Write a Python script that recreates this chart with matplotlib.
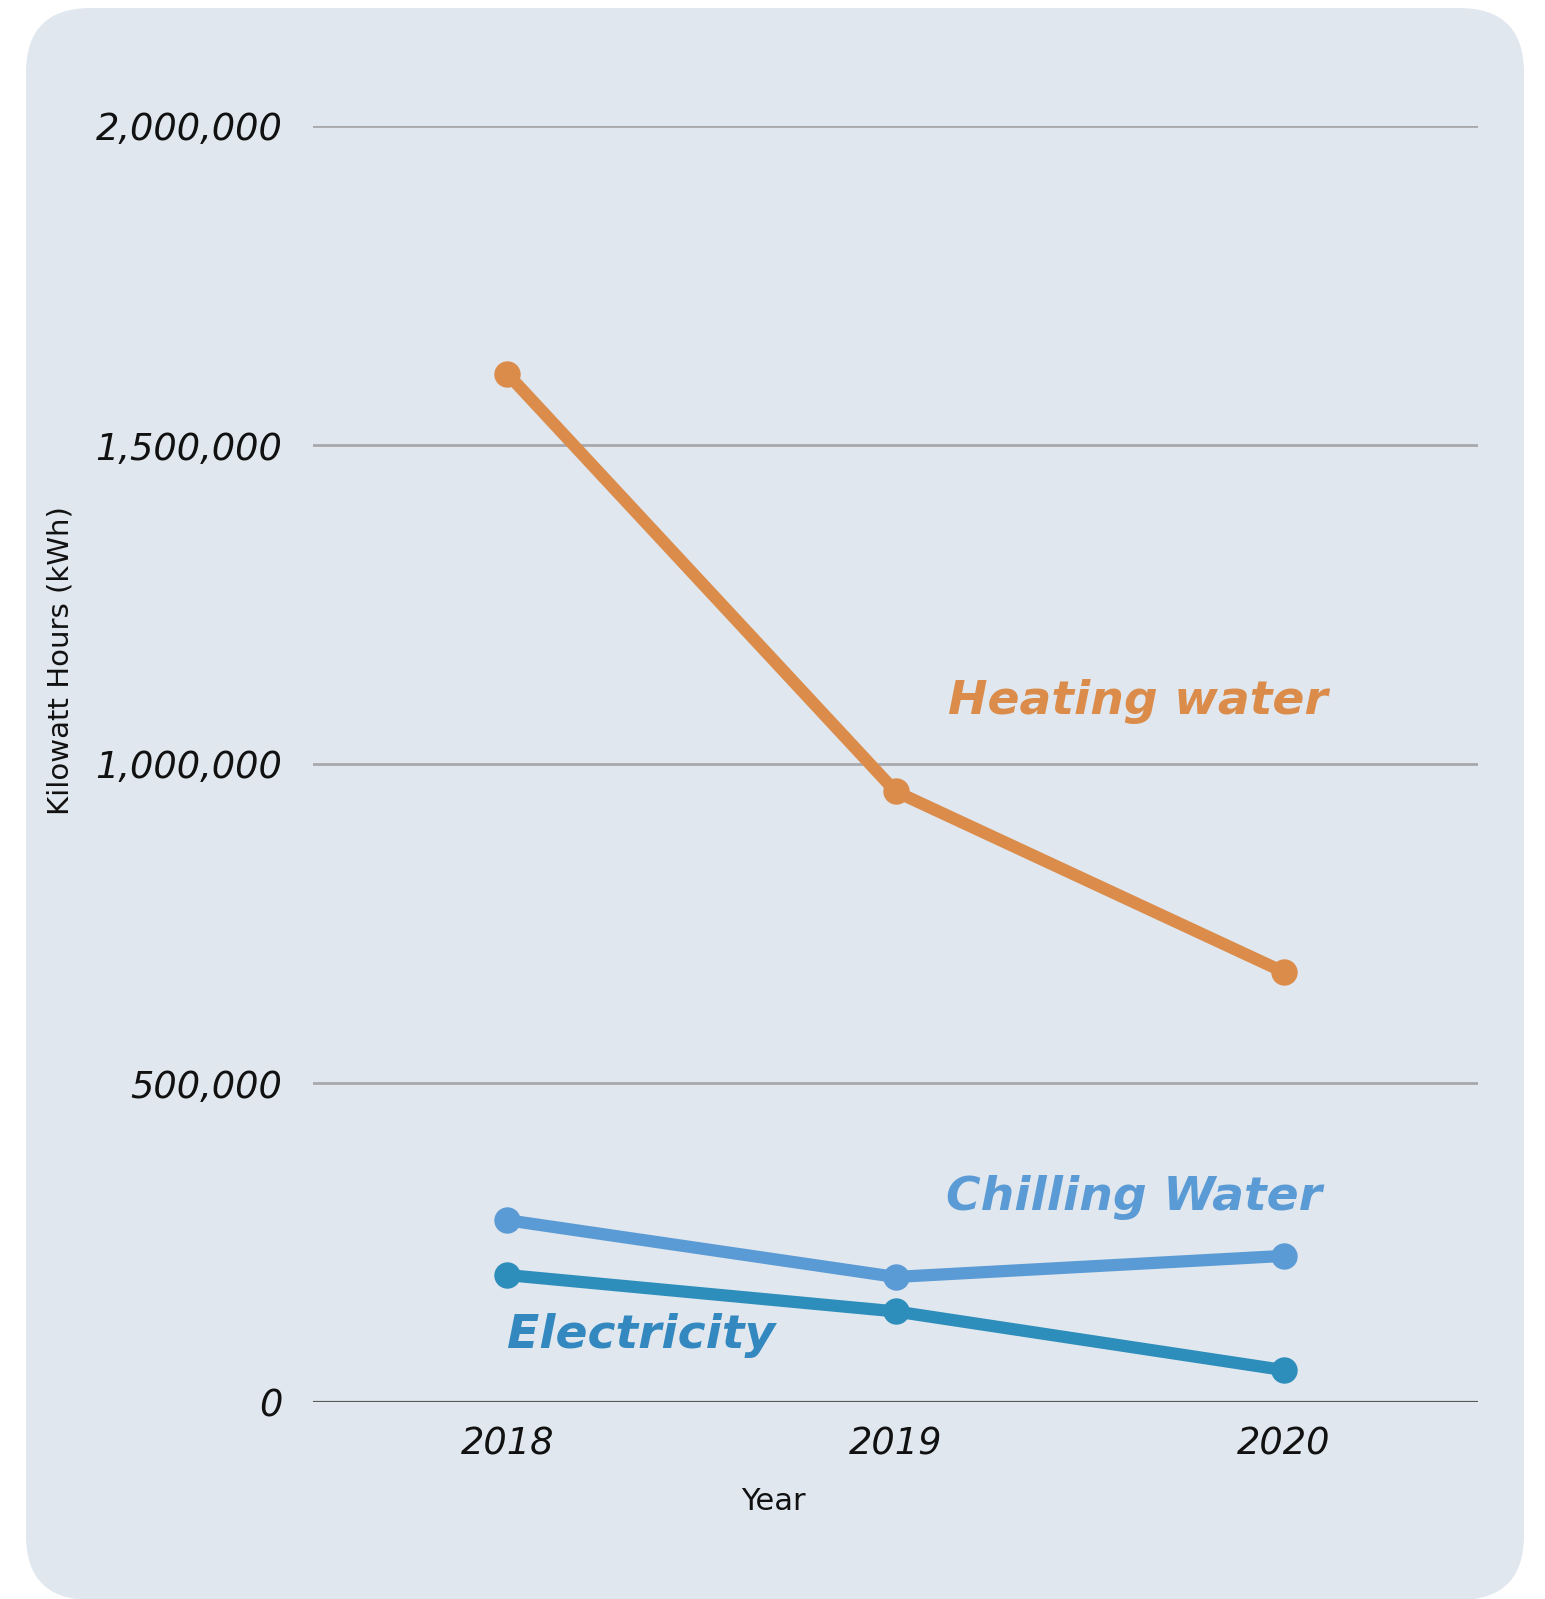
import matplotlib.pyplot as plt
from matplotlib.patches import FancyBboxPatch
from matplotlib.ticker import FuncFormatter

# energy use per year, kWh
years = [2018, 2019, 2020]
heating_water = [1612000, 957000, 674000]
chilling_water = [285000, 196000, 229000]
electricity = [199000, 142000, 50000]

y_ticks = [0, 500000, 1000000, 1500000, 2000000]

naranja = "#DB8C4A"
azul_claro = "#5B9BD5"
azul = "#2D8DBB"
fondo = "#E0E7EE"

plt.rcParams['font.family'] = ['DejaVu Sans']

W, H = 1545, 1599
fig = plt.figure(figsize=(W / 100, H / 100), dpi=100)
fig.patch.set_facecolor("white")

# fondo redondeado
caja = FancyBboxPatch((26 / W, 1 - 1600 / H), (1524 - 26) / W, (1600 - 8) / H,
                      boxstyle="round,pad=0,rounding_size=0.042",
                      transform=fig.transFigure, facecolor=fondo,
                      edgecolor="none", zorder=-10, mutation_aspect=W / H)
fig.patches.append(caja)

ax = fig.add_axes([313 / W, 197 / H, 1165 / W, 1276 / H])
ax.set_facecolor("none")
ax.set_xlim(2017.5, 2020.5)
ax.set_ylim(0, 2000000)

for t in y_ticks[1:]:
    ax.axhline(t, color="#A7A9AC", lw=2, zorder=1)
ax.axhline(0, color="#58595B", lw=2.3, zorder=1)

def dibujar(y, color):
    ax.plot(years, y, color=color, lw=8.8, marker="o", markersize=18,
            solid_capstyle="round", zorder=3, clip_on=False)

dibujar(heating_water, naranja)
dibujar(chilling_water, azul_claro)
dibujar(electricity, azul)

for s in ax.spines.values():
    s.set_visible(False)

ax.set_xticks(years)
ax.set_yticks(y_ticks)
ax.yaxis.set_major_formatter(FuncFormatter(lambda v, p: f"{int(v):,}"))
ax.tick_params(length=0, labelcolor="#111111")
ax.tick_params(axis="y", pad=22)
ax.tick_params(axis="x", pad=17)
for lab in ax.get_xticklabels() + ax.get_yticklabels():
    lab.set_fontsize(26.5)
    lab.set_fontstyle("oblique")

etiqueta = dict(fontsize=34, fontstyle="oblique", fontweight="bold",
                va="baseline", ha="left")
ax.text(2019.134, 1078000, "Heating water", color=naranja, **etiqueta)
ax.text(2019.131, 301000, "Chilling Water", color=azul_claro, **etiqueta)
ax.text(2018.0, 85000, "Electricity", color="#3288BF", **etiqueta)

fig.text(61 / W, 1 - 661 / H, "Kilowatt Hours (kWh)", rotation=90,
         ha="center", va="center", fontsize=21, color="#111111")
fig.text(773 / W, 1 - 1501 / H, "Year", ha="center", va="center", fontsize=22,
         color="#111111")

fig.savefig("out.png", dpi=100)
